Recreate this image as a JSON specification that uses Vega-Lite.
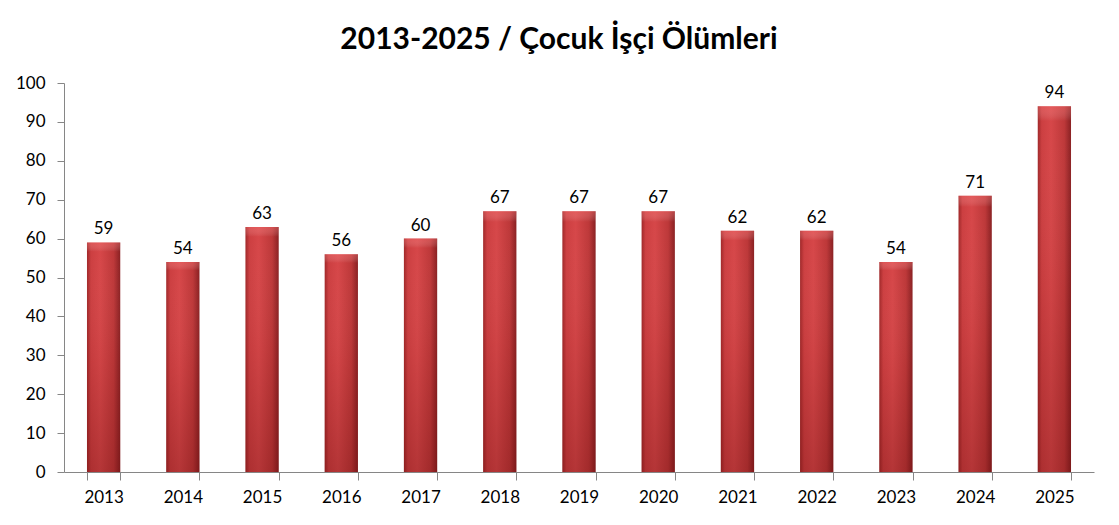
{
  "$schema": "https://vega.github.io/schema/vega-lite/v6.json",
  "width": 1030,
  "height": 389,
  "autosize": {"type": "none"},
  "padding": {"left": 64, "top": 83, "right": 25, "bottom": 53},
  "background": "white",
  "title": {
    "text": "2013-2025 / Çocuk İşçi Ölümleri",
    "font": "Lato",
    "fontSize": 30,
    "fontWeight": "bold",
    "color": "#000000",
    "anchor": "middle",
    "offset": 19,
    "dx": -20
  },
  "data": {
    "values": [
      {"year": "2013", "value": 59},
      {"year": "2014", "value": 54},
      {"year": "2015", "value": 63},
      {"year": "2016", "value": 56},
      {"year": "2017", "value": 60},
      {"year": "2018", "value": 67},
      {"year": "2019", "value": 67},
      {"year": "2020", "value": 67},
      {"year": "2021", "value": 62},
      {"year": "2022", "value": 62},
      {"year": "2023", "value": 54},
      {"year": "2024", "value": 71},
      {"year": "2025", "value": 94}
    ]
  },
  "config": {
    "view": {"stroke": null},
    "axis": {
      "labelFont": "Lato",
      "labelFontSize": 17,
      "labelColor": "#000000",
      "domainColor": "#868686",
      "tickColor": "#868686",
      "grid": false,
      "title": null
    }
  },
  "encoding": {
    "x": {
      "field": "year",
      "type": "ordinal",
      "scale": {"paddingInner": 0.58, "paddingOuter": 0.29},
      "axis": {"labelAngle": 0, "tickBand": "extent", "tickSize": 8, "labelPadding": 9}
    },
    "y": {
      "field": "value",
      "type": "quantitative",
      "scale": {"domain": [0, 100], "nice": false},
      "axis": {"values": [0,10,20,30,40,50,60,70,80,90,100], "tickSize": 7, "labelPadding": 12}
    }
  },
  "layer": [
    {
      "mark": {
        "type": "bar",
        "fill": {
          "gradient": "linear",
          "x1": 0, "x2": 1, "y1": 0, "y2": 0,
          "stops": [
            {"offset": 0, "color": "#a02829"},
            {"offset": 0.12, "color": "#cc3f41"},
            {"offset": 0.4, "color": "#d64749"},
            {"offset": 0.8, "color": "#bd3839"},
            {"offset": 1, "color": "#8a2123"}
          ]
        }
      }
    },
    {
      "mark": {
        "type": "bar",
        "fill": {
          "gradient": "linear",
          "x1": 0, "x2": 0, "y1": 0, "y2": 1,
          "stops": [
            {"offset": 0, "color": "rgba(255,120,120,0.35)"},
            {"offset": 0.04, "color": "rgba(255,255,255,0)"},
            {"offset": 0.5, "color": "rgba(80,0,0,0.05)"},
            {"offset": 1, "color": "rgba(80,0,0,0.25)"}
          ]
        }
      }
    },
    {
      "mark": {"type": "text", "dy": -13, "font": "Lato", "fontSize": 17, "color": "#000000"},
      "encoding": {"text": {"field": "value", "type": "quantitative"}}
    }
  ]
}
